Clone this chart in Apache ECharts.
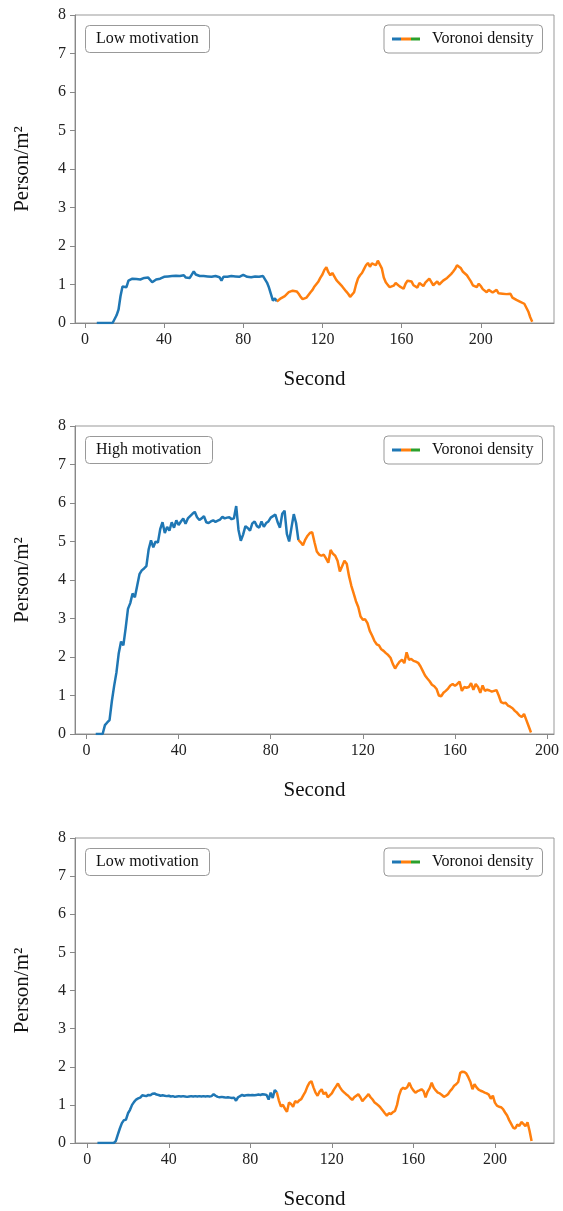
<!DOCTYPE html>
<html>
<head>
<meta charset="utf-8">
<script src="https://cdn.jsdelivr.net/npm/echarts@6/dist/echarts.min.js"></script>
<style>
  html, body { margin: 0; padding: 0; background: #fff; }
  #chart { width: 563px; height: 1211px; }
</style>
</head>
<body>
<div id="chart"></div>
<script>
// Voronoi density (person/m²), one sample per second; each array starts at its *Start second
const lowAStartBlue = 6;
const lowABlue = [
  0, 0, 0, 0, 0, 0, 0, 0, 0, 0,
  0.2, 0.35, 0.7, 0.95, 0.98, 0.93, 1.1, 1.12, 1.15, 1.19,
  1.14, 1.16, 1.13, 1.15, 1.17, 1.14, 1.18, 1.15, 1.06, 1.11,
  1.13, 1.16, 1.15, 1.18, 1.2, 1.18, 1.21, 1.19, 1.22, 1.2,
  1.23, 1.21, 1.22, 1.27, 1.24, 1.18, 1.19, 1.17, 1.2, 1.34,
  1.26, 1.23, 1.22, 1.21, 1.22, 1.2, 1.21, 1.22, 1.2, 1.21,
  1.22, 1.2, 1.19, 1.1, 1.2, 1.22, 1.2, 1.21, 1.22, 1.2,
  1.21, 1.23, 1.2, 1.22, 1.25, 1.22, 1.2, 1.21, 1.19, 1.2,
  1.21, 1.17, 1.2, 1.15, 1.22, 1.2, 1.05, 0.92, 0.75, 0.58, 0.64, 0.56
];
const lowAStartOrange = 97;
const lowAOrange = [
  0.56, 0.6, 0.64, 0.62, 0.7, 0.74, 0.8, 0.78, 0.84, 0.88,
  0.82, 0.76, 0.68, 0.62, 0.58, 0.66, 0.7, 0.8, 0.86, 0.95,
  1.0, 1.08, 1.18, 1.26, 1.38, 1.45, 1.32, 1.24, 1.3, 1.25,
  1.12, 1.06, 1.02, 0.95, 0.9, 0.82, 0.76, 0.68, 0.64, 0.8,
  1.0, 1.16, 1.24, 1.3, 1.4, 1.5, 1.56, 1.46, 1.55, 1.59,
  1.5, 1.62, 1.58, 1.42, 1.18, 1.06, 0.99, 0.93, 0.9, 0.97,
  1.04, 1.08, 0.95, 0.92, 0.89, 1.02, 1.1, 1.12, 1.08, 0.98,
  0.95, 0.92, 1.04, 1.0, 0.96, 1.05, 1.07, 1.15, 1.12, 0.98,
  1.02, 1.08, 1.0, 1.02, 1.1, 1.14, 1.17, 1.22, 1.27, 1.33,
  1.4, 1.5, 1.45, 1.42, 1.33, 1.28, 1.24, 1.16, 1.08, 0.98,
  0.95, 0.93, 1.02, 0.96, 0.88, 0.84, 0.8, 0.86, 0.84, 0.79,
  0.84, 0.86, 0.77, 0.74, 0.76, 0.78, 0.75, 0.72, 0.76, 0.66,
  0.62, 0.6, 0.56, 0.55, 0.52, 0.5, 0.46, 0.3, 0.15, 0.03
];

const highStartBlue = 4;
const highBlue = [
  0, 0, 0, 0, 0.23, 0.3, 0.36, 0.85, 1.25, 1.6,
  2.1, 2.4, 2.3, 2.75, 3.25, 3.4, 3.65, 3.55, 3.85, 4.15,
  4.25, 4.3, 4.36, 4.8, 5.03, 4.85, 5.0, 4.97, 5.32, 5.5,
  5.22, 5.38, 5.28, 5.5, 5.36, 5.55, 5.43, 5.52, 5.6, 5.46,
  5.6, 5.66, 5.72, 5.77, 5.63, 5.56, 5.6, 5.66, 5.5, 5.48,
  5.52, 5.55, 5.51, 5.54, 5.57, 5.64, 5.6, 5.62, 5.63, 5.58,
  5.6, 5.92, 5.3, 5.02, 5.18, 5.4, 5.35, 5.28, 5.47, 5.52,
  5.4, 5.36, 5.52, 5.38, 5.48, 5.52, 5.62, 5.66, 5.7, 5.5,
  5.36, 5.72, 5.8, 5.2, 5.0, 5.36, 5.71, 5.48, 5.04
];
const highStartOrange = 92;
const highOrange = [
  5.04, 4.98, 4.9, 5.05, 5.15, 5.22, 5.24, 4.98, 4.74, 4.66,
  4.63, 4.66, 4.56, 4.45, 4.78, 4.68, 4.63, 4.5, 4.22, 4.36,
  4.5, 4.42, 4.1, 3.85, 3.65, 3.45, 3.3, 3.05, 2.97, 2.98,
  2.88, 2.68, 2.56, 2.42, 2.33, 2.3, 2.2, 2.16, 2.1, 2.05,
  1.98, 1.82, 1.7, 1.8, 1.88, 1.93, 1.84, 2.12, 1.93, 1.95,
  1.9, 1.88, 1.85, 1.76, 1.64, 1.52, 1.44, 1.37, 1.28, 1.24,
  1.17, 1.0, 0.98, 1.07, 1.12, 1.18, 1.26, 1.3, 1.25, 1.3,
  1.36, 1.12, 1.22, 1.2, 1.22, 1.32, 1.15, 1.3, 1.22, 1.07,
  1.26, 1.12, 1.15, 1.13, 1.1, 1.12, 1.14, 1.0, 0.83, 0.8,
  0.81, 0.74, 0.71, 0.67, 0.6, 0.55, 0.48, 0.44, 0.52, 0.36, 0.2, 0.04
];

const lowBStartBlue = 5;
const lowBBlue = [
  0, 0, 0, 0, 0, 0, 0, 0, 0, 0.05,
  0.22, 0.38, 0.52, 0.6, 0.61, 0.78, 0.87, 1.0, 1.08, 1.14,
  1.17, 1.19, 1.25, 1.24, 1.23, 1.26, 1.25, 1.29, 1.3, 1.27,
  1.26, 1.24, 1.25, 1.24, 1.23, 1.24, 1.22, 1.23, 1.21, 1.22,
  1.23, 1.22, 1.23, 1.22, 1.21, 1.22, 1.23, 1.22, 1.23, 1.22,
  1.23, 1.22, 1.23, 1.22, 1.23, 1.22, 1.23, 1.28, 1.24, 1.21,
  1.2, 1.21, 1.2, 1.19, 1.2, 1.19, 1.18, 1.19, 1.11, 1.2,
  1.23, 1.26, 1.24, 1.25, 1.26, 1.25, 1.26, 1.25, 1.26, 1.27,
  1.26, 1.28, 1.27, 1.26, 1.14, 1.32, 1.18, 1.39, 1.33
];
const lowBStartOrange = 93;
const lowBOrange = [
  1.33, 1.12, 0.96, 1.0, 0.9, 0.82, 1.06, 1.02, 0.95, 1.1,
  1.06, 1.12, 1.15, 1.25, 1.34, 1.48, 1.58, 1.62, 1.46, 1.32,
  1.24, 1.35, 1.41, 1.28, 1.33, 1.2, 1.25, 1.3, 1.4, 1.48,
  1.56, 1.46, 1.38, 1.33, 1.28, 1.24, 1.18, 1.13, 1.2, 1.24,
  1.28, 1.2, 1.1, 1.16, 1.22, 1.28, 1.2, 1.14, 1.06, 1.02,
  0.98, 0.92, 0.85, 0.78, 0.72, 0.78, 0.76, 0.81, 0.84, 1.0,
  1.25, 1.4, 1.45, 1.42, 1.46, 1.58, 1.46, 1.38, 1.32, 1.36,
  1.38, 1.41, 1.36, 1.2, 1.35, 1.44, 1.58, 1.45, 1.38, 1.32,
  1.3, 1.26, 1.21, 1.24, 1.28, 1.36, 1.42, 1.5, 1.54, 1.6,
  1.84, 1.87, 1.86, 1.82, 1.72, 1.6, 1.41, 1.54, 1.46, 1.4,
  1.37, 1.35, 1.32, 1.3, 1.27, 1.16, 1.24, 1.06, 0.98, 0.95,
  0.94, 0.89, 0.8, 0.72, 0.6, 0.5, 0.4, 0.38, 0.48, 0.45,
  0.55, 0.5, 0.44, 0.54, 0.32, 0.05
];

const panelLabels = ['Low motivation', 'High motivation', 'Low motivation'];
const xTicks = [0, 40, 80, 120, 160, 200];
const xMins = [-5, -5, -6];
const xMaxs = [237, 203, 229];

const BLUE = '#1f77b4';
const ORANGE = '#ff7f0e';
const GREEN = '#2ca02c';
const FONT = '"Liberation Serif", "DejaVu Serif", serif';

const panels = [
  { blue: [lowAStartBlue, lowABlue], orange: [lowAStartOrange, lowAOrange] },
  { blue: [highStartBlue, highBlue], orange: [highStartOrange, highOrange] },
  { blue: [lowBStartBlue, lowBBlue], orange: [lowBStartOrange, lowBOrange] }
];
const tops = [15, 426, 838];

function toPairs(start, values) {
  return values.map((v, i) => [start + i, v]);
}

const legendIconColor = new echarts.graphic.LinearGradient(0, 0, 1, 0, [
  { offset: 0, color: BLUE }, { offset: 0.333, color: BLUE },
  { offset: 0.333, color: ORANGE }, { offset: 0.667, color: ORANGE },
  { offset: 0.667, color: GREEN }, { offset: 1, color: GREEN }
]);

const grid = [], xAxis = [], yAxis = [], series = [], title = [], legend = [];

panels.forEach((p, i) => {
  grid.push({
    left: 75, width: 479, top: tops[i], height: 308,
    show: true, borderColor: '#999', borderWidth: 1
  });
  xAxis.push({
    gridIndex: i, type: 'value', min: xMins[i], max: xMaxs[i],
    name: 'Second', nameLocation: 'middle', nameGap: 46,
    nameTextStyle: { fontFamily: FONT, fontSize: 21, color: '#111' },
    axisLine: { onZero: false, lineStyle: { color: '#888' } },
    axisTick: { length: 5, lineStyle: { color: '#888' }, customValues: xTicks },
    axisLabel: { customValues: xTicks, fontFamily: FONT, fontSize: 16, color: '#222', margin: 9 },
    splitLine: { show: false }
  });
  yAxis.push({
    gridIndex: i, type: 'value', min: 0, max: 8, interval: 1,
    name: 'Person/m²', nameLocation: 'middle', nameGap: 42,
    nameTextStyle: { fontFamily: FONT, fontSize: 21, color: '#111' },
    axisLine: { show: true, onZero: false, lineStyle: { color: '#888' } },
    axisTick: { show: true, length: 5, lineStyle: { color: '#888' } },
    axisLabel: { fontFamily: FONT, fontSize: 16, color: '#222', margin: 9 },
    splitLine: { show: false }
  });
  series.push({
    type: 'line', name: 'Voronoi density', xAxisIndex: i, yAxisIndex: i,
    data: toPairs(p.blue[0], p.blue[1]),
    showSymbol: false, symbol: 'none',
    lineStyle: { color: BLUE, width: 2.5 }, itemStyle: { color: BLUE }
  });
  series.push({
    type: 'line', name: 'tail', xAxisIndex: i, yAxisIndex: i,
    data: toPairs(p.orange[0], p.orange[1]),
    showSymbol: false, symbol: 'none',
    lineStyle: { color: ORANGE, width: 2.5 }, itemStyle: { color: ORANGE }
  });
  title.push({
    text: panelLabels[i], left: 85, top: tops[i] + 10,
    padding: [6, 11], borderColor: '#999', borderWidth: 1, borderRadius: 4,
    textStyle: { fontFamily: FONT, fontSize: 16, fontWeight: 'normal', color: '#111' }
  });
  legend.push({
    data: [{ name: 'Voronoi density', icon: 'rect', itemStyle: { color: legendIconColor } }],
    left: 384, top: tops[i] + 10,
    padding: [6, 9, 6, 8], borderColor: '#999', borderWidth: 1, borderRadius: 4,
    itemWidth: 28, itemHeight: 3, selectedMode: false,
    textStyle: { fontFamily: FONT, fontSize: 16, color: '#111', padding: [0, 0, 0, 7] }
  });
});

const chart = echarts.init(document.getElementById('chart'));
chart.setOption({
  animation: false,
  backgroundColor: '#fff',
  title, legend, grid, xAxis, yAxis, series
});
</script>
</body>
</html>
